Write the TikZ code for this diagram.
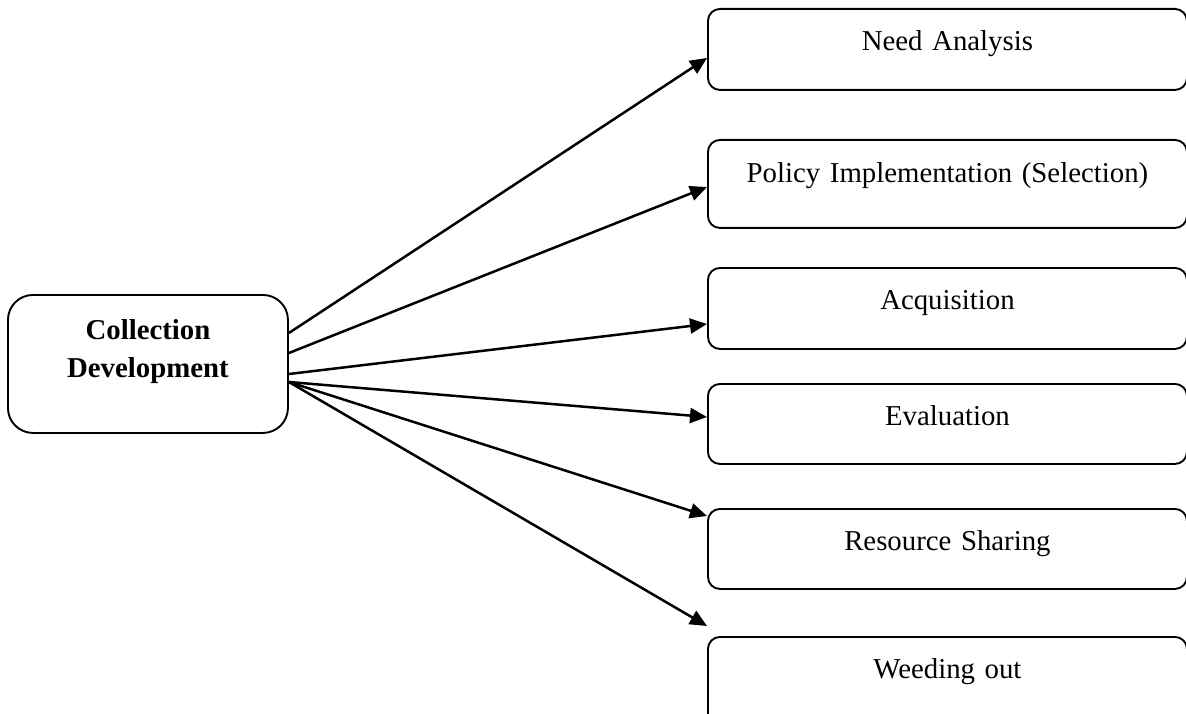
\documentclass[tikz,border=0pt]{standalone}
\usepackage{fontspec}
\setmainfont{Liberation Serif}
\usetikzlibrary{arrows.meta,calc}
\begin{document}
\begin{tikzpicture}[x=1pt,y=-1pt,
  box/.style={draw, line width=1.9pt, rounded corners=12pt, inner sep=0pt,
    text width=479pt, align=center, anchor=north west, text height=42pt,
    font=\fontsize{28.8}{38}\selectfont},
  mainbox/.style={draw, line width=1.9pt, rounded corners=25pt, inner sep=0pt,
    text width=280pt, align=center, anchor=north west,
    font=\fontsize{28.8}{38}\selectfont\bfseries},
  conn/.style={line width=2.5pt, -{Triangle[length=17pt,width=15pt]}}]
\useasboundingbox (0,0) rectangle (1186,714);
% main box
\node[mainbox, text height=45pt, text depth=93pt] (cd) at (7,294) {Collection\\Development};
% right boxes
\node[box, text depth=39pt] (na) at (707,8) {Need Analysis};
\node[box, text height=43pt, text depth=45pt] (pi) at (707,139) {Policy Implementation (Selection)};
\node[box, text depth=39pt] (ac) at (707,267) {Acquisition};
\node[box, text depth=38pt] (ev) at (707,383) {Evaluation};
\node[box, text depth=38pt] (rs) at (707,508) {Resource Sharing};
\node[box, text depth=60pt] (wo) at (707,636) {Weeding out};
% connectors
\coordinate (s1) at ($(cd.north east)+(0,39)$);
\coordinate (s2) at ($(cd.north east)+(0,59)$);
\coordinate (s3) at ($(cd.north east)+(0,80)$);
\coordinate (s4) at ($(cd.north east)+(0,88)$);
\coordinate (t1) at ($(na.north west)+(0,50)$);
\coordinate (t2) at ($(pi.north west)+(0,48)$);
\coordinate (t3) at ($(ac.north west)+(0,57)$);
\coordinate (t4) at ($(ev.north west)+(0,34)$);
\coordinate (t5) at ($(rs.north west)+(0,8)$);
\coordinate (t6) at ($(wo.north west)+(0,-10)$);
\draw[conn] (s1) -- (t1);
\draw[conn] (s2) -- (t2);
\draw[conn] (s3) -- (t3);
\draw[conn] (s4) -- (t4);
\draw[conn] (s4) -- (t5);
\draw[conn] (s4) -- (t6);
\end{tikzpicture}
\end{document}
